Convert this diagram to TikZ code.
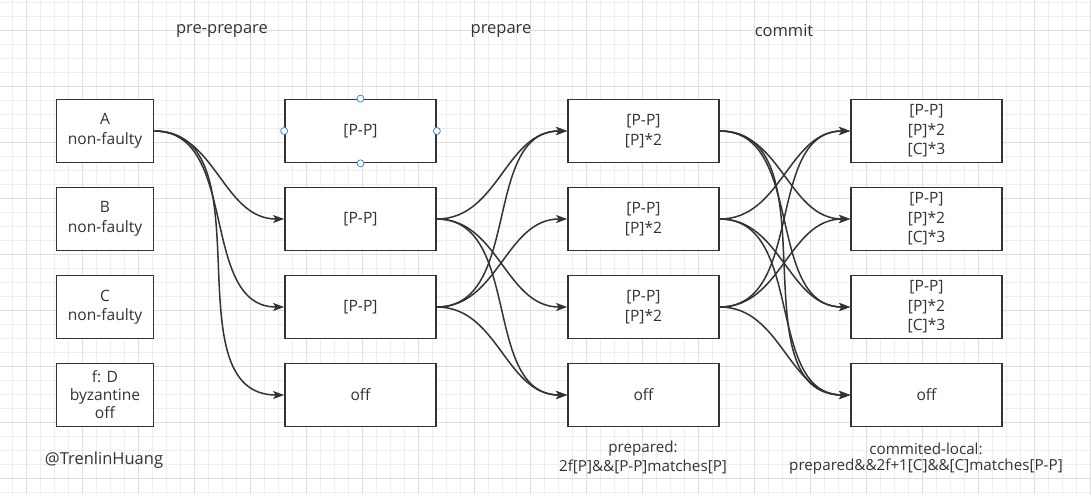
\documentclass[tikz,border=0pt]{standalone}
\usepackage{fontspec}
\setmainfont{Open Sans}
\usetikzlibrary{arrows.meta}
\definecolor{txt}{HTML}{333333}
\definecolor{edge}{HTML}{333333}
\definecolor{gridminor}{HTML}{EEEEEE}
\definecolor{gridmajor}{HTML}{DEDEDE}
\definecolor{handle}{HTML}{3D8BD6}
\tikzset{
  stepbox/.style={draw=edge, line width=1.7pt, fill=white, minimum width=151pt, minimum height=63pt,
    inner sep=0pt, align=center, text=txt, font=\fontsize{15.6}{19.5}\selectfont},
  smallbox/.style={stepbox, minimum width=97pt},
  lbl/.style={text=txt, align=center, inner sep=0pt, font=\fontsize{15.2}{18}\selectfont},
  ttl/.style={lbl, font=\fontsize{16.5}{18}\selectfont},
  conn/.style={draw=edge, line width=1.5pt, -{Stealth[length=11pt,width=8pt,inset=2.5pt]}},
  hdl/.style={circle, draw=handle, fill=white, line width=0.8pt, minimum size=7pt, inner sep=0pt},
}
\begin{document}
\begin{tikzpicture}[x=1pt,y=-1pt]
\useasboundingbox (0,0) rectangle (1091,495);
\fill[white] (0,0) rectangle (1091,495);
% grid
\foreach \i in {0,...,77} { \draw[gridminor, line width=0.6pt] ({12.7+14*\i},0) -- ({12.7+14*\i},495); }
\foreach \i in {0,...,35} { \draw[gridminor, line width=0.6pt] (0,{2+14*\i}) -- (1091,{2+14*\i}); }
\foreach \i in {0,...,19} { \draw[gridmajor, line width=0.7pt] ({26.7+56*\i},0) -- ({26.7+56*\i},495); }
\foreach \i in {0,...,8} { \draw[gridmajor, line width=0.7pt] (0,{30+56*\i}) -- (1091,{30+56*\i}); }

% titles
\node[ttl] (t1) at (222,31) {pre-prepare};
\node[ttl] (t2) at (501,31) {prepare};
\node[ttl] (t3) at (784,31) {commit};

% column 1
\node[smallbox] (A1) at (105,131) {A\\non-faulty};
\node[smallbox] (B1) at (105,219) {B\\non-faulty};
\node[smallbox] (C1) at (105,307) {C\\non-faulty};
\node[smallbox, font=\fontsize{15.6}{18}\selectfont] (D1) at (105,395) {f: D\\byzantine\\off};

% column 2
\node[stepbox] (A2) at (360.5,131) {[P-P]};
\node[stepbox] (B2) at (360.5,219) {[P-P]};
\node[stepbox] (C2) at (360.5,307) {[P-P]};
\node[stepbox] (D2) at (360.5,395) {off};

% column 3
\node[stepbox] (A3) at (643.5,131) {[P-P]\\{}[P]*2};
\node[stepbox] (B3) at (643.5,219) {[P-P]\\{}[P]*2};
\node[stepbox] (C3) at (643.5,307) {[P-P]\\{}[P]*2};
\node[stepbox] (D3) at (643.5,395) {off};

% column 4
\node[stepbox] (A4) at (926.5,131) {[P-P]\\{}[P]*2\\{}[C]*3};
\node[stepbox] (B4) at (926.5,219) {[P-P]\\{}[P]*2\\{}[C]*3};
\node[stepbox] (C4) at (926.5,307) {[P-P]\\{}[P]*2\\{}[C]*3};
\node[stepbox] (D4) at (926.5,395) {off};

% labels
\node[ttl] (w) at (104,460) {@TrenlinHuang};
\node[lbl] (p1) at (643,449) {prepared:};
\node[lbl] (p2) at (643,467) {2f[P]\&\&[P-P]matches[P]};
\node[lbl] (c1) at (926,449) {commited-local:};
\node[lbl] (c2) at (926,467) {prepared\&\&2f+1[C]\&\&[C]matches[P-P]};

% connectors: pre-prepare
\foreach \t in {B2,C2,D2} { \draw[conn] (A1.east) to[out=0,in=180] (\t.west); }
% prepare
\foreach \t in {A3,C3,D3} { \draw[conn] (B2.east) to[out=0,in=180] (\t.west); }
\foreach \t in {A3,B3,D3} { \draw[conn] (C2.east) to[out=0,in=180] (\t.west); }
% commit
\foreach \t in {B4,C4,D4} { \draw[conn] (A3.east) to[out=0,in=180] (\t.west); }
\foreach \t in {A4,C4,D4} { \draw[conn] (B3.east) to[out=0,in=180] (\t.west); }
\foreach \t in {A4,B4,D4} { \draw[conn] (C3.east) to[out=0,in=180] (\t.west); }

% selection handles
\node[hdl] (h1) at (A2.north) {};
\node[hdl] (h2) at (A2.south) {};
\node[hdl] (h3) at (A2.west) {};
\node[hdl] (h4) at (A2.east) {};
\end{tikzpicture}
\end{document}
